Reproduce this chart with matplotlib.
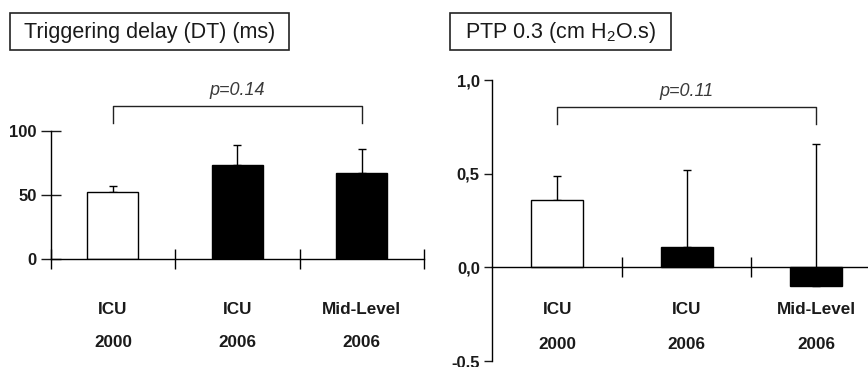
import matplotlib
matplotlib.use('Agg')
import matplotlib.pyplot as plt
from matplotlib.patches import Rectangle
import numpy as np

plt.rcParams['font.family'] = ['Liberation Sans', 'DejaVu Sans']
plt.rcParams['mathtext.fontset'] = 'custom'
plt.rcParams['mathtext.rm'] = 'Liberation Sans'
plt.rcParams['mathtext.it'] = 'Liberation Sans:italic'
plt.rcParams['mathtext.bf'] = 'Liberation Sans:bold'

# data
groups = ['ICU', 'ICU', 'Mid-Level']
years = ['2000', '2006', '2006']
bar_colors = ['white', 'black', 'black']

dt_mean = [52.3, 73.4, 67.5]
dt_err = [4.5, 16.0, 18.2]
dt_p = 'p=0.14'

ptp_mean = [0.36, 0.11, -0.10]
ptp_err = [0.13, 0.41, 0.76]
ptp_p = 'p=0.11'

W, H = 868, 367
fig = plt.figure(figsize=(W / 100, H / 100), dpi=100)

def fx(px):
    return px / W

def fy(py):
    return 1 - py / H

x = np.arange(3)
txt_col = '#1a1a1a'


def panel(ax, mean, err, pval, br_y, br_drop, p_y, lab_y1, lab_y2, ytick_len, ytick_dir, bw):
    ax.errorbar(x, mean, yerr=[np.zeros(3), err], fmt='none', ecolor='black',
                elinewidth=1.0, capsize=3, capthick=1.0, zorder=1)
    ax.bar(x, mean, width=bw, color=bar_colors, edgecolor='black', linewidth=1.0, zorder=2)
    for s in ['top', 'right']:
        ax.spines[s].set_visible(False)
    for s in ['left', 'bottom']:
        ax.spines[s].set_linewidth(1.0)
    ax.tick_params(axis='y', direction=ytick_dir, length=ytick_len, width=1.0,
                   labelsize=12, colors=txt_col, pad=3)
    for t in ax.get_yticklabels():
        t.set_fontweight('bold')
    ax.tick_params(axis='x', direction='inout', length=15, width=1.0, labelbottom=False)
    # bracket for the p value
    ax.plot([0, 0, 2, 2], [br_drop, br_y, br_y, br_drop], color='#222222', lw=1.0, clip_on=False)
    ax.text(1, p_y, pval, ha='center', va='center', fontsize=13, style='italic',
            color='#3a3a3a', clip_on=False)
    for i in range(3):
        ax.text(x[i], lab_y1, groups[i], ha='center', va='center', fontsize=12.3,
                fontweight='bold', color=txt_col, clip_on=False)
        ax.text(x[i], lab_y2, years[i], ha='center', va='center', fontsize=12.3,
                fontweight='bold', color=txt_col, clip_on=False)


# left panel: triggering delay
ax1 = fig.add_axes([fx(50.7), fy(258.7), fx(424 - 50.7), (258.7 - 131) / H])
ax1.set_xlim(-0.5, 2.5)
ax1.set_ylim(0, 100)
ax1.set_yticks([0, 50, 100])
ax1.set_yticklabels(['0', '50', '100'])
ax1.set_xticks([-0.5, 0.5, 1.5, 2.5])
panel(ax1, dt_mean, dt_err, dt_p, 119.3, 106, 131.5, -40, -66, 14, 'inout', 0.41)

# right panel: PTP 0.3
ax2 = fig.add_axes([fx(492.3), fy(361), 1 - fx(492.3), (361 - 80.3) / H])
ax2.set_xlim(-0.5, 2.4)
ax2.set_ylim(-0.5, 1.0)
ax2.set_yticks([-0.5, 0, 0.5, 1.0])
ax2.set_yticklabels(['-0,5', '0,0', '0,5', '1,0'])
ax2.set_xticks([0.5, 1.5])
ax2.spines['bottom'].set_position(('data', 0))
panel(ax2, ptp_mean, ptp_err, ptp_p, 0.856, 0.768, 0.94, -0.223, -0.41, 6, 'out', 0.40)

# framed titles
for (x0, x1, label) in [(10, 289, 'Triggering delay (DT) (ms)'),
                        (450, 671.3, 'PTP 0.3 (cm H$_2$O.s)')]:
    fig.patches.append(Rectangle((fx(x0), fy(50)), fx(x1 - x0), (50 - 12.7) / H,
                                 transform=fig.transFigure, fill=False,
                                 edgecolor='#222222', linewidth=1.2))
    fig.text(fx((x0 + x1) / 2), fy(38.3), label, ha='center', va='baseline',
             fontsize=15.5, color=txt_col)

fig.savefig('out.png', dpi=100)
